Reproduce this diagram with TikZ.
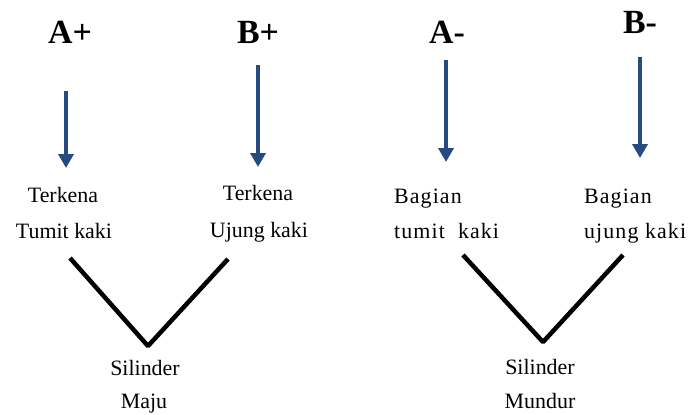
\documentclass[tikz,border=0pt]{standalone}
\usepackage{fontspec}
\setmainfont{Liberation Serif}
\usetikzlibrary{arrows.meta}
\definecolor{arrowblue}{RGB}{37,75,128}

\begin{document}
\begin{tikzpicture}[x=1bp,y=-1bp,
  headlabel/.style={inner sep=0pt,anchor=base,font=\fontsize{34}{34}\selectfont\bfseries},
  bodytext/.style={inner sep=0pt,anchor=base,font=\fontsize{22}{22}\selectfont},
  spacedtext/.style={inner sep=0pt,anchor=base west,font=\fontsize{22}{22}\selectfont\addfontfeature{LetterSpace=5}},
  downarrow/.style={draw=arrowblue,line width=4.5bp,-{Triangle[width=15bp,length=14bp]}},
  vline/.style={draw=black,line width=4.5bp,line join=bevel}]

  % canvas
  \useasboundingbox (0,0) rectangle (693,414);

  % cylinder states
  \node[headlabel] (Ap) at (70,43) {A+};
  \node[headlabel] (Bp) at (258,43) {B+};
  \node[headlabel] (Am) at (447,43) {A-};
  \node[headlabel] (Bm) at (640,33) {B-};

  % sensor descriptions
  \node[bodytext] (t1a) at (63,202) {Terkena};
  \node[bodytext] (t1b) at (64,238) {Tumit kaki};
  \node[bodytext] (t2a) at (258,200) {Terkena};
  \node[bodytext] (t2b) at (259,237) {Ujung kaki};
  \node[spacedtext] (t3a) at (394,203) {Bagian};
  \node[spacedtext] (t3b) at (394,238) {tumit~~kaki};
  \node[spacedtext] (t4a) at (584,203) {Bagian};
  \node[spacedtext] (t4b) at (584,238) {ujung~kaki};

  % results
  \node[bodytext] (s1a) at (145,375) {Silinder};
  \node[bodytext] (s1b) at (144,408) {Maju};
  \node[bodytext] (s2a) at (540,374) {Silinder};
  \node[bodytext] (s2b) at (540,408) {Mundur};

  % arrow end points
  \coordinate (a1s) at (66,91);   \coordinate (a1e) at (66,168);
  \coordinate (a2s) at (258,65);  \coordinate (a2e) at (258,167);
  \coordinate (a3s) at (446,60);  \coordinate (a3e) at (446,162);
  \coordinate (a4s) at (640,57);  \coordinate (a4e) at (640,158);

  \draw[downarrow] (a1s) -- (a1e);
  \draw[downarrow] (a2s) -- (a2e);
  \draw[downarrow] (a3s) -- (a3e);
  \draw[downarrow] (a4s) -- (a4e);

  % joining V shapes
  \coordinate (v1l) at (70,258);  \coordinate (v1b) at (148,346); \coordinate (v1r) at (228,259);
  \coordinate (v2l) at (463,255); \coordinate (v2b) at (543,342); \coordinate (v2r) at (623,255);

  \draw[vline] (v1l) -- (v1b) -- (v1r);
  \draw[vline] (v2l) -- (v2b) -- (v2r);
\end{tikzpicture}
\end{document}
